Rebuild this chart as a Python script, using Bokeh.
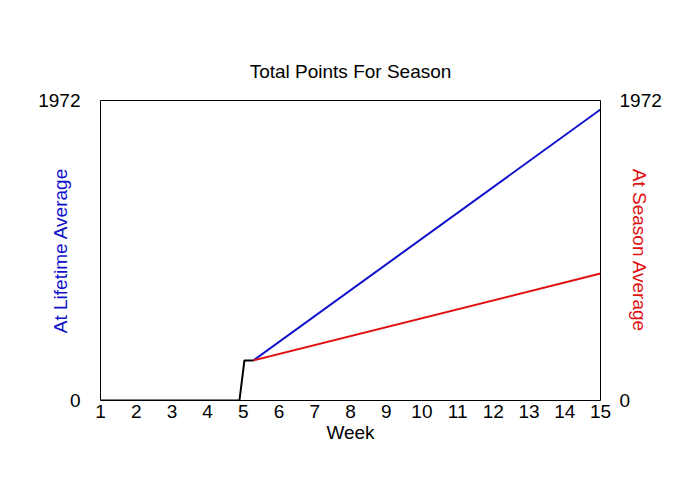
from bokeh.plotting import figure
from bokeh.models import Range1d, LinearAxis, FixedTicker
from bokeh.embed import file_html
from bokeh.resources import INLINE

# Data
actual_weeks = [1, 4.89, 5.03, 5.28]
actual_points = [0, 0, 263, 263]
lifetime_weeks = [5.28, 15]
lifetime_points = [263, 1913]
season_weeks = [5.28, 15]
season_points = [263, 835]
x_ticks = list(range(1, 16))
y_ticks = [0, 1972]

FONT = "Liberation Sans"
BLUE = "#1010CC"
RED = "#E01010"

p = figure(width=700, height=500, output_backend="svg", toolbar_location=None,
           x_range=Range1d(1, 15), y_range=Range1d(0, 1972),
           min_border_left=100, min_border_right=100, min_border_top=100, min_border_bottom=100,
           title="Total Points For Season")
p.extra_y_ranges = {"right": Range1d(0, 1972)}

p.title.align = "center"
p.title.text_font = FONT
p.title.text_font_size = "19px"
p.title.text_font_style = "normal"
p.title.text_color = "black"
p.title.standoff = 38

p.xgrid.visible = False
p.ygrid.visible = False
p.outline_line_color = "black"
p.outline_line_width = 1
p.background_fill_color = "white"
p.border_fill_color = "white"

xa = p.xaxis[0]
xa.ticker = FixedTicker(ticks=x_ticks)
xa.axis_label = "Week"
ya = p.yaxis[0]
ya.ticker = FixedTicker(ticks=y_ticks)
ya.axis_label = "At Lifetime Average"
ya.axis_label_text_color = BLUE

ra = LinearAxis(y_range_name="right", ticker=FixedTicker(ticks=y_ticks),
                axis_label="At Season Average")
ra.axis_label_text_color = RED
p.add_layout(ra, "right")

for ax in [xa, ya, ra]:
    ax.axis_line_color = None
    ax.major_tick_line_color = None
    ax.minor_tick_line_color = None
    ax.major_tick_out = 0
    ax.major_tick_in = 0
    ax.minor_tick_out = 0
    ax.major_label_text_font = FONT
    ax.major_label_text_font_size = "19px"
    ax.major_label_text_color = "black"
    ax.axis_label_text_font = FONT
    ax.axis_label_text_font_size = "19px"
    ax.axis_label_text_font_style = "normal"

xa.axis_label_text_color = "black"
xa.major_label_standoff = 4
xa.axis_label_standoff = 1
ya.major_label_standoff = 20
ra.major_label_standoff = 19
ya.axis_label_standoff = -36
ra.axis_label_standoff = -36

p.line(lifetime_weeks, lifetime_points, line_color=BLUE, line_width=2)
p.line(season_weeks, season_points, line_color=RED, line_width=2)
p.line(actual_weeks, actual_points, line_color="black", line_width=2)

open("out.html", "w").write(file_html(p, INLINE))
